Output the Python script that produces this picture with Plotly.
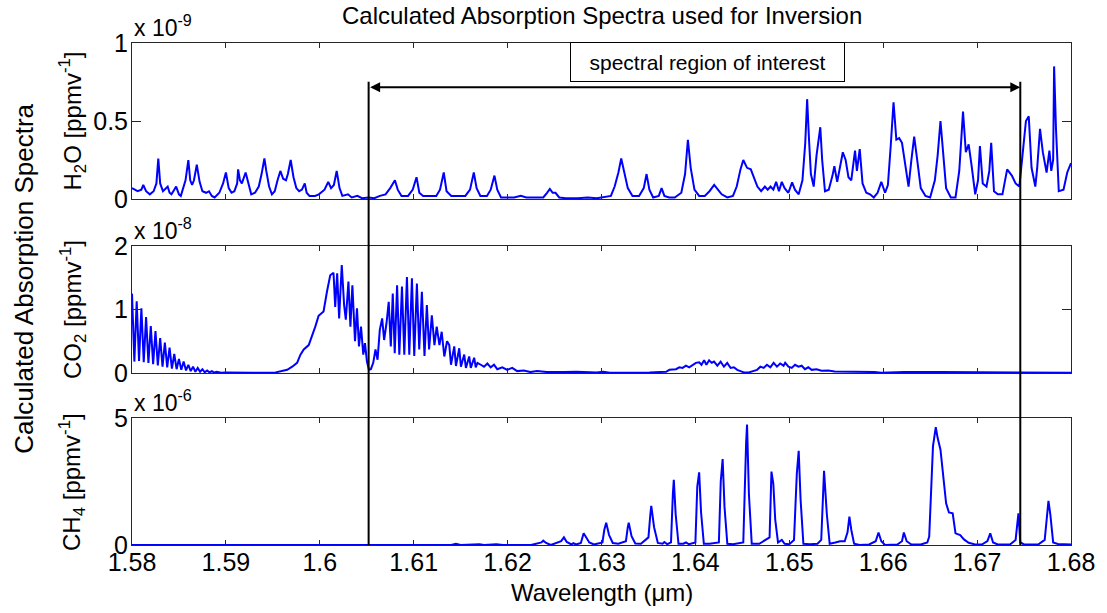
import plotly.graph_objects as go

# Absorption spectra, value units: H2O x1e-9, CO2 x1e-8, CH4 x1e-6 [ppmv^-1]
h2o_points = [
    (1.5800, 0.07), (1.5806, 0.05), (1.5810, 0.06), (1.5812, 0.09), (1.5815, 0.05), (1.5819, 0.03),
    (1.5823, 0.05), (1.5826, 0.10), (1.5828, 0.26), (1.5830, 0.10), (1.5833, 0.05), (1.5836, 0.07),
    (1.5838, 0.08), (1.5840, 0.04), (1.5842, 0.03), (1.5845, 0.06), (1.5847, 0.08), (1.5850, 0.03),
    (1.5852, 0.02), (1.5857, 0.12), (1.5860, 0.25), (1.5862, 0.12), (1.5864, 0.09), (1.5866, 0.12),
    (1.5869, 0.22), (1.5872, 0.11), (1.5875, 0.05), (1.5879, 0.04), (1.5882, 0.05), (1.5885, 0.02),
    (1.5888, 0.01), (1.5893, 0.04), (1.5897, 0.10), (1.5900, 0.17), (1.5903, 0.07), (1.5906, 0.04),
    (1.5909, 0.05), (1.5912, 0.10), (1.5913, 0.19), (1.5915, 0.12), (1.5917, 0.10), (1.5921, 0.17),
    (1.5924, 0.09), (1.5927, 0.03), (1.5931, 0.04), (1.5935, 0.08), (1.5938, 0.16), (1.5941, 0.26),
    (1.5943, 0.18), (1.5946, 0.08), (1.5949, 0.03), (1.5952, 0.05), (1.5955, 0.12), (1.5958, 0.18),
    (1.5961, 0.13), (1.5964, 0.12), (1.5966, 0.16), (1.5969, 0.25), (1.5972, 0.14), (1.5975, 0.07),
    (1.5978, 0.05), (1.5981, 0.06), (1.5984, 0.10), (1.5986, 0.04), (1.5989, 0.02), (1.5995, 0.02),
    (1.5999, 0.03), (1.6005, 0.06), (1.6009, 0.11), (1.6012, 0.07), (1.6015, 0.09), (1.6018, 0.18),
    (1.6021, 0.07), (1.6024, 0.02), (1.6030, 0.03), (1.6034, 0.01), (1.6040, 0.02), (1.6045, 0.005),
    (1.6052, 0.01), (1.6058, 0.005), (1.6064, 0.02), (1.6070, 0.03), (1.6075, 0.07), (1.6080, 0.12),
    (1.6083, 0.06), (1.6087, 0.02), (1.6094, 0.02), (1.6099, 0.06), (1.6103, 0.14), (1.6106, 0.04),
    (1.6110, 0.02), (1.6118, 0.02), (1.6124, 0.02), (1.6128, 0.06), (1.6132, 0.17), (1.6135, 0.05),
    (1.6140, 0.02), (1.6147, 0.02), (1.6155, 0.02), (1.6160, 0.06), (1.6164, 0.17), (1.6167, 0.07),
    (1.6171, 0.02), (1.6178, 0.02), (1.6182, 0.06), (1.6186, 0.15), (1.6189, 0.06), (1.6193, 0.01),
    (1.6200, 0.01), (1.6207, 0.01), (1.6214, 0.02), (1.6220, 0.01), (1.6228, 0.01), (1.6238, 0.01),
    (1.6242, 0.04), (1.6245, 0.065), (1.6248, 0.04), (1.6251, 0.04), (1.6255, 0.01), (1.6262, 0.005),
    (1.6275, 0.005), (1.6285, 0.01), (1.6295, 0.005), (1.6302, 0.01), (1.6310, 0.02), (1.6314, 0.08),
    (1.6318, 0.17), (1.6321, 0.26), (1.6324, 0.17), (1.6328, 0.07), (1.6333, 0.02), (1.6340, 0.02),
    (1.6345, 0.07), (1.6348, 0.16), (1.6351, 0.06), (1.6355, 0.01), (1.6361, 0.02), (1.6364, 0.07),
    (1.6367, 0.02), (1.6372, 0.01), (1.6378, 0.01), (1.6385, 0.04), (1.6389, 0.16), (1.6392, 0.38),
    (1.6395, 0.20), (1.6399, 0.06), (1.6404, 0.02), (1.6410, 0.02), (1.6415, 0.05), (1.6420, 0.09),
    (1.6424, 0.06), (1.6428, 0.03), (1.6434, 0.01), (1.6440, 0.02), (1.6444, 0.08), (1.6448, 0.19),
    (1.6451, 0.25), (1.6455, 0.20), (1.6459, 0.19), (1.6462, 0.14), (1.6466, 0.08), (1.6470, 0.05),
    (1.6474, 0.08), (1.6477, 0.06), (1.6480, 0.08), (1.6483, 0.06), (1.6486, 0.11), (1.6489, 0.05),
    (1.6492, 0.11), (1.6495, 0.07), (1.6499, 0.04), (1.6503, 0.107), (1.6506, 0.06), (1.6510, 0.03),
    (1.6514, 0.12), (1.6517, 0.36), (1.6519, 0.64), (1.6521, 0.38), (1.6523, 0.16), (1.6526, 0.08),
    (1.6529, 0.28), (1.6533, 0.46), (1.6535, 0.25), (1.6538, 0.05), (1.6542, 0.06), (1.6546, 0.15),
    (1.6548, 0.21), (1.6551, 0.11), (1.6554, 0.20), (1.6557, 0.30), (1.6560, 0.25), (1.6563, 0.14),
    (1.6566, 0.12), (1.6569, 0.26), (1.6570, 0.31), (1.6572, 0.18), (1.6575, 0.32), (1.6578, 0.10),
    (1.6582, 0.04), (1.6586, 0.03), (1.6590, 0.01), (1.6594, 0.04), (1.6598, 0.11), (1.6602, 0.04),
    (1.6605, 0.09), (1.6608, 0.34), (1.6611, 0.62), (1.6614, 0.38), (1.6617, 0.39), (1.6620, 0.36),
    (1.6623, 0.24), (1.6627, 0.08), (1.6630, 0.25), (1.6633, 0.40), (1.6636, 0.26), (1.6640, 0.07),
    (1.6645, 0.02), (1.6650, 0.01), (1.6655, 0.12), (1.6658, 0.28), (1.6661, 0.50), (1.6664, 0.27),
    (1.6667, 0.07), (1.6672, 0.01), (1.6677, 0.01), (1.6681, 0.18), (1.6685, 0.56), (1.6688, 0.30),
    (1.6691, 0.35), (1.6694, 0.22), (1.6698, 0.03), (1.6701, 0.12), (1.6703, 0.34), (1.6706, 0.10),
    (1.6710, 0.08), (1.6713, 0.18), (1.6715, 0.36), (1.6718, 0.05), (1.6722, 0.03), (1.6727, 0.03),
    (1.6732, 0.19), (1.6737, 0.15), (1.6741, 0.10), (1.6745, 0.08), (1.6749, 0.35), (1.6752, 0.50),
    (1.6755, 0.53), (1.6758, 0.20), (1.6762, 0.08), (1.6764, 0.20), (1.6767, 0.45), (1.6770, 0.30),
    (1.6774, 0.17), (1.6777, 0.31), (1.6779, 0.18), (1.6781, 0.25), (1.6782, 0.85), (1.6784, 0.45),
    (1.6787, 0.05), (1.6792, 0.06), (1.6796, 0.17), (1.6800, 0.23),
]

co2_points = [
    (1.58000, 1.25), (1.58025, 0.18), (1.58050, 1.13), (1.58075, 0.19), (1.58100, 1.02), (1.58125, 0.17),
    (1.58150, 0.88), (1.58175, 0.16), (1.58200, 0.74), (1.58225, 0.14), (1.58250, 0.66), (1.58275, 0.12),
    (1.58300, 0.55), (1.58325, 0.10), (1.58350, 0.48), (1.58375, 0.09), (1.58400, 0.40), (1.58425, 0.07),
    (1.58450, 0.30), (1.58475, 0.06), (1.58500, 0.22), (1.58525, 0.05), (1.58550, 0.18), (1.58575, 0.04),
    (1.58600, 0.13), (1.58625, 0.03), (1.58650, 0.10), (1.58675, 0.02), (1.58700, 0.08), (1.58725, 0.02),
    (1.58750, 0.06), (1.58775, 0.01), (1.58800, 0.04), (1.58825, 0.01), (1.58850, 0.03), (1.58875, 0.005),
    (1.58900, 0.02), (1.58950, 0.005), (1.59000, 0.01), (1.59100, 0.005), (1.59300, 0.005), (1.59529, 0.01),
    (1.59582, 0.03), (1.59653, 0.05), (1.59706, 0.10), (1.59758, 0.16), (1.59794, 0.29), (1.59829, 0.37),
    (1.59882, 0.44), (1.59917, 0.57), (1.59952, 0.73), (1.59987, 0.90), (1.60016, 0.94), (1.60040, 0.97),
    (1.60076, 1.28), (1.60111, 1.54), (1.60146, 1.58), (1.60164, 1.04), (1.60185, 1.57), (1.60206, 0.86),
    (1.60234, 1.70), (1.60259, 1.07), (1.60277, 0.84), (1.60305, 1.44), (1.60326, 0.73), (1.60347, 1.38),
    (1.60375, 0.50), (1.60396, 1.02), (1.60417, 0.42), (1.60439, 0.73), (1.60463, 0.29), (1.60481, 0.47),
    (1.60502, 0.18), (1.60523, 0.05), (1.60544, 0.06), (1.60569, 0.16), (1.60593, 0.37), (1.60615, 0.21),
    (1.60639, 0.68), (1.60664, 0.86), (1.60685, 0.52), (1.60710, 0.78), (1.60734, 1.12), (1.60756, 0.42),
    (1.60777, 1.25), (1.60798, 0.31), (1.60823, 1.38), (1.60847, 0.29), (1.60875, 1.36), (1.60900, 0.29),
    (1.60928, 1.51), (1.60953, 0.29), (1.60981, 1.49), (1.61006, 0.27), (1.61034, 1.41), (1.61059, 0.37),
    (1.61087, 1.28), (1.61115, 0.27), (1.61140, 1.07), (1.61164, 0.37), (1.61193, 0.91), (1.61221, 0.44),
    (1.61245, 0.73), (1.61274, 0.44), (1.61298, 0.65), (1.61326, 0.26), (1.61355, 0.50), (1.61379, 0.44),
    (1.61397, 0.13), (1.61432, 0.42), (1.61450, 0.11), (1.61485, 0.39), (1.61503, 0.10), (1.61538, 0.29),
    (1.61556, 0.08), (1.61591, 0.26), (1.61608, 0.08), (1.61644, 0.24), (1.61661, 0.09), (1.61679, 0.16),
    (1.61714, 0.13), (1.61749, 0.10), (1.61785, 0.15), (1.61820, 0.09), (1.61855, 0.13), (1.61890, 0.06),
    (1.61943, 0.09), (1.61996, 0.05), (1.62049, 0.08), (1.62102, 0.03), (1.62172, 0.04), (1.62243, 0.015),
    (1.62313, 0.03), (1.62419, 0.015), (1.62595, 0.015), (1.62736, 0.02), (1.62948, 0.01), (1.63018, 0.02),
    (1.63088, 0.005), (1.63370, 0.005), (1.63511, 0.01), (1.63688, 0.02), (1.63723, 0.05), (1.63793, 0.06),
    (1.63829, 0.09), (1.63864, 0.08), (1.63899, 0.115), (1.63934, 0.09), (1.63969, 0.13), (1.64005, 0.16),
    (1.64040, 0.17), (1.64065, 0.13), (1.64093, 0.20), (1.64117, 0.13), (1.64146, 0.20), (1.64174, 0.16),
    (1.64198, 0.18), (1.64234, 0.115), (1.64269, 0.18), (1.64304, 0.10), (1.64339, 0.16), (1.64375, 0.08),
    (1.64410, 0.09), (1.64445, 0.05), (1.64480, 0.03), (1.64516, 0.01), (1.64569, 0.01), (1.64621, 0.03),
    (1.64657, 0.05), (1.64692, 0.10), (1.64727, 0.08), (1.64762, 0.13), (1.64798, 0.09), (1.64833, 0.16),
    (1.64868, 0.10), (1.64903, 0.15), (1.64939, 0.115), (1.64956, 0.16), (1.64991, 0.10), (1.65026, 0.08),
    (1.65061, 0.13), (1.65097, 0.10), (1.65132, 0.115), (1.65167, 0.06), (1.65202, 0.09), (1.65238, 0.05),
    (1.65291, 0.06), (1.65343, 0.035), (1.65414, 0.04), (1.65484, 0.025), (1.65555, 0.025), (1.65625, 0.015),
    (1.65907, 0.015), (1.65978, 0.005), (1.66224, 0.015), (1.66612, 0.015), (1.66859, 0.015), (1.66964, 0.005),
    (1.68000, 0.005),
]

ch4_points = [
    (1.5800, 0.0), (1.6140, 0.0), (1.6145, 0.05), (1.6150, 0.0), (1.6170, 0.03), (1.6175, 0.0),
    (1.6188, 0.03), (1.6195, 0.0), (1.6225, 0.0), (1.6236, 0.10), (1.6238, 0.17), (1.6241, 0.08),
    (1.6246, 0.0), (1.6257, 0.15), (1.6260, 0.30), (1.6263, 0.12), (1.6268, 0.02), (1.6270, 0.07),
    (1.6273, 0.02), (1.6278, 0.08), (1.6281, 0.46), (1.6284, 0.25), (1.6287, 0.10), (1.6292, 0.02),
    (1.6301, 0.10), (1.6303, 0.60), (1.6305, 0.88), (1.6308, 0.40), (1.6312, 0.08), (1.6318, 0.05),
    (1.6326, 0.15), (1.6328, 0.70), (1.6329, 0.88), (1.6332, 0.35), (1.6336, 0.06), (1.6342, 0.05),
    (1.6350, 0.30), (1.6352, 1.20), (1.6353, 1.54), (1.6356, 0.70), (1.6360, 0.08), (1.6365, 0.05),
    (1.6367, 0.12), (1.6370, 0.03), (1.6374, 0.10), (1.6376, 2.00), (1.6377, 2.57), (1.6379, 1.20),
    (1.6382, 0.05), (1.6387, 0.05), (1.6390, 0.10), (1.6393, 0.03), (1.6400, 0.10), (1.6402, 2.30),
    (1.6404, 2.86), (1.6406, 1.30), (1.6409, 0.05), (1.6415, 0.05), (1.6425, 0.10), (1.6427, 2.50),
    (1.6429, 3.38), (1.6431, 1.50), (1.6434, 0.05), (1.6440, 0.03), (1.6451, 0.10), (1.6454, 4.00),
    (1.6455, 4.74), (1.6457, 2.00), (1.6460, 0.05), (1.6468, 0.05), (1.6472, 0.15), (1.6479, 0.30),
    (1.6481, 2.89), (1.6483, 2.40), (1.6485, 1.00), (1.6488, 0.10), (1.6492, 0.20), (1.6495, 0.05),
    (1.6500, 0.03), (1.6505, 0.20), (1.6508, 2.80), (1.6510, 3.71), (1.6512, 1.80), (1.6515, 0.05),
    (1.6522, 0.03), (1.6530, 0.05), (1.6534, 0.20), (1.6536, 2.50), (1.6537, 2.92), (1.6540, 1.20),
    (1.6543, 0.05), (1.6549, 0.10), (1.6554, 0.15), (1.6559, 0.15), (1.6562, 0.50), (1.6564, 1.12),
    (1.6566, 0.60), (1.6569, 0.05), (1.6575, 0.0), (1.6585, 0.02), (1.6592, 0.15), (1.6595, 0.49),
    (1.6598, 0.15), (1.6602, 0.0), (1.6615, 0.02), (1.6620, 0.15), (1.6622, 0.49), (1.6625, 0.15),
    (1.6630, 0.02), (1.6640, 0.02), (1.6647, 0.10), (1.6649, 0.33), (1.6651, 2.17), (1.6653, 3.88),
    (1.6656, 4.64), (1.6658, 4.21), (1.6661, 3.75), (1.6664, 2.57), (1.6667, 1.64), (1.6670, 1.28),
    (1.6674, 1.25), (1.6677, 0.46), (1.6682, 0.39), (1.6686, 0.22), (1.6691, 0.09), (1.6697, 0.03),
    (1.6705, 0.02), (1.6711, 0.15), (1.6714, 0.46), (1.6717, 0.10), (1.6722, 0.02), (1.6735, 0.02),
    (1.6741, 0.20), (1.6744, 1.25), (1.6746, 0.10), (1.6750, 0.02), (1.6765, 0.02), (1.6772, 0.20),
    (1.6775, 1.20), (1.6776, 1.74), (1.6778, 1.20), (1.6781, 0.10), (1.6786, 0.04), (1.6800, 0.02),
]

h2o_wl, h2o_val = zip(*h2o_points)
co2_wl, co2_val = zip(*co2_points)
ch4_wl, ch4_val = zip(*ch4_points)

x_ticks = [1.58, 1.59, 1.60, 1.61, 1.62, 1.63, 1.64, 1.65, 1.66, 1.67, 1.68]
x_ticktext = ["1.58", "1.59", "1.6", "1.61", "1.62", "1.63", "1.64", "1.65", "1.66", "1.67", "1.68"]

region_start = 1.6052
region_end = 1.6746

FONT = "Liberation Sans, Arial, sans-serif"
AXIS_COLOR = "#262626"
LINE_BLUE = "#0000FF"

fig = go.Figure()
fig.add_trace(go.Scatter(x=h2o_wl, y=h2o_val, mode="lines", line=dict(color=LINE_BLUE, width=2),
                         xaxis="x", yaxis="y", showlegend=False))
fig.add_trace(go.Scatter(x=co2_wl, y=co2_val, mode="lines", line=dict(color=LINE_BLUE, width=2),
                         xaxis="x2", yaxis="y2", showlegend=False))
fig.add_trace(go.Scatter(x=ch4_wl, y=ch4_val, mode="lines", line=dict(color=LINE_BLUE, width=2),
                         xaxis="x3", yaxis="y3", showlegend=False))

# panel layout (paper fractions of the plot area)
dom_h2o = [0.6892, 1.0]
dom_co2 = [0.3426, 0.5956]
dom_ch4 = [0.0, 0.253]

xcommon = dict(range=[1.58, 1.68], tickvals=x_ticks, ticktext=x_ticktext, ticks="inside",
               ticklen=5, tickcolor=AXIS_COLOR, showline=True, linecolor=AXIS_COLOR, linewidth=1,
               mirror="ticks", showgrid=False, zeroline=False,
               tickfont=dict(family=FONT, size=25, color="black"))
ycommon = dict(ticks="inside", ticklen=9, tickcolor=AXIS_COLOR, showline=True, linecolor=AXIS_COLOR,
               linewidth=1, mirror="ticks", showgrid=False, zeroline=False,
               tickfont=dict(family=FONT, size=25, color="black"), ticklabelstandoff=-2)

fig.update_layout(
    width=1107, height=613,
    margin=dict(l=132, r=29, t=43, b=68),
    paper_bgcolor="white", plot_bgcolor="white",
    xaxis=dict(xcommon, domain=[0, 1], anchor="y", showticklabels=False),
    xaxis2=dict(xcommon, domain=[0, 1], anchor="y2", showticklabels=False),
    xaxis3=dict(xcommon, domain=[0, 1], anchor="y3", showticklabels=True, ticklabelstandoff=-5),
    yaxis=dict(ycommon, domain=dom_h2o, anchor="x", range=[0, 1],
               tickvals=[0, 0.5, 1], ticktext=["0", "0.5", "1"]),
    yaxis2=dict(ycommon, domain=dom_co2, anchor="x2", range=[0, 2],
                tickvals=[0, 1, 2], ticktext=["0", "1", "2"]),
    yaxis3=dict(ycommon, domain=dom_ch4, anchor="x3", range=[0, 5],
                tickvals=[0, 5], ticktext=["0", "5"]),
)

annotations = []
txt = dict(family=FONT, color="black")

annotations.append(dict(text="Calculated Absorption Spectra used for Inversion", xref="paper", yref="paper",
                        x=0.5, y=1.054, xanchor="center", yanchor="middle", showarrow=False,
                        font=dict(txt, size=24)))
annotations.append(dict(text="Wavelength (\u03bcm)", xref="paper", yref="paper", x=0.5, y=-0.094,
                        xanchor="center", yanchor="middle", showarrow=False, font=dict(txt, size=24)))
annotations.append(dict(text="Calculated Absorption Spectra", xref="paper", yref="paper", x=-0.1152, y=0.53,
                        xanchor="center", yanchor="middle", textangle=-90, showarrow=False,
                        font=dict(txt, size=26)))

ylabels = [
    ("H<sub>2</sub>O [ppmv<sup>-1</sup>]", dom_h2o),
    ("CO<sub>2</sub> [ppmv<sup>-1</sup>]", dom_co2),
    ("CH<sub>4</sub> [ppmv<sup>-1</sup>]", dom_ch4),
]
for label, dom in ylabels:
    annotations.append(dict(text=label, xref="paper", yref="paper", x=-0.0634, y=(dom[0] + dom[1]) / 2,
                            xanchor="center", yanchor="middle", textangle=-90, showarrow=False,
                            font=dict(txt, size=24)))

for exp, dom in [("-9", dom_h2o), ("-8", dom_co2), ("-6", dom_ch4)]:
    annotations.append(dict(text="x 10<sup>" + exp + "</sup>", xref="paper", yref="paper", x=0,
                            y=dom[1], xanchor="left", yanchor="bottom", showarrow=False,
                            font=dict(txt, size=23)))

# double-headed arrow spanning the region of interest
annotations.append(dict(text="", xref="x", yref="y", x=region_end, y=0.716, axref="x", ayref="y",
                        ax=region_start, ay=0.716, showarrow=True, arrowhead=2, startarrowhead=2,
                        arrowside="end+start", arrowsize=1, arrowwidth=2, arrowcolor="black",
                        standoff=0, startstandoff=0))
annotations.append(dict(text="spectral region of interest", xref="x", yref="y", x=1.64126, y=0.88,
                        xanchor="center", yanchor="middle", showarrow=False, bgcolor="white",
                        bordercolor="black", borderwidth=1, borderpad=0, width=273, height=38,
                        font=dict(txt, size=21)))

fig.update_layout(annotations=annotations)

for xv in (region_start, region_end):
    fig.add_shape(type="line", xref="x3", yref="paper", x0=xv, x1=xv, y0=0, y1=0.923,
                  line=dict(color="black", width=2))

fig.write_html("out.html")
